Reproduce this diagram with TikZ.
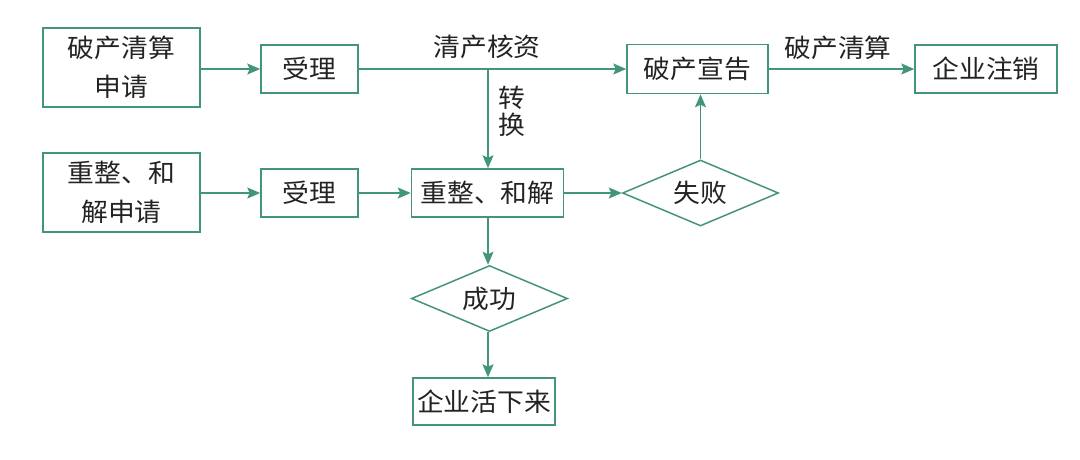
\documentclass[tikz,border=0pt]{standalone}
\usepackage{fontspec}
\newfontfamily\cjk[FakeStretch=1.05]{Noto Sans CJK SC}
\usetikzlibrary{arrows.meta,shapes.geometric}
\definecolor{lc}{RGB}{66,150,118}
\definecolor{tc}{RGB}{35,35,35}
\begin{document}
\begin{tikzpicture}[x=1pt,y=-1pt,
  every node/.style={font=\cjk\fontsize{25.5}{39}\selectfont, text=tc},
  box/.style={draw=lc, line width=1.5pt, rectangle, inner sep=0pt, align=center},
  dia/.style={draw=lc, line width=1.5pt, diamond, inner sep=0pt, shape aspect=2.36, minimum width=156pt, minimum height=66pt},
  conn/.style={draw=lc, line width=1.6pt, -{Stealth[length=13pt,width=11pt,inset=2.5pt]}},
  lbl/.style={inner sep=0pt, align=center}
]
\useasboundingbox (0,0) rectangle (1080,459);
\node[box, minimum width=157pt, minimum height=79pt] (app1) at (121.5,67.5) {破产清算\\申请};
\node[box, minimum width=97pt, minimum height=48pt] (acc1) at (309.5,69) {受理};
\node[box, minimum width=141pt, minimum height=49pt] (decl) at (697.5,69) {破产宣告};
\node[box, minimum width=142pt, minimum height=48pt] (cancel) at (986,69) {企业注销};
\node[box, minimum width=157pt, minimum height=79pt] (app2) at (121.5,192.5) {重整、和\\解申请};
\node[box, minimum width=97pt, minimum height=48pt] (acc2) at (309.5,193) {受理};
\node[box, minimum width=152pt, minimum height=48pt] (reorg) at (487.5,193) {重整、和解};
\node[dia] (fail) at (700.5,193) {失败};
\node[dia] (succ) at (489.5,298.5) {成功};
\node[box, minimum width=142pt, minimum height=47pt] (live) at (484,401.5) {企业活下来};
\coordinate (br) at (488,69);
\draw[conn] (app1.east |- acc1.west) -- (acc1.west);
\draw[conn] (acc1.east) -- (decl.west);
\draw[conn] (br) -- (reorg.north -| br);
\draw[conn] (decl.east) -- (cancel.west);
\draw[conn] (app2.east |- acc2.west) -- (acc2.west);
\draw[conn] (acc2.east) -- (reorg.west |- acc2.east);
\draw[conn] (reorg.east |- fail.west) -- (fail.west);
\draw[conn] (fail.north) -- (decl.south -| fail.north);
\draw[conn] (reorg.south -| br) -- (succ.north -| br);
\draw[conn] (succ.south -| br) -- (live.north -| br);
\node[lbl] (l1) at (487,47) {清产核资};
\node[lbl] (l2) at (838,48) {破产清算};
\node[lbl, font=\cjk\fontsize{25.5}{27}\selectfont] (l3) at (512,111) {转\\换};
\end{tikzpicture}
\end{document}
